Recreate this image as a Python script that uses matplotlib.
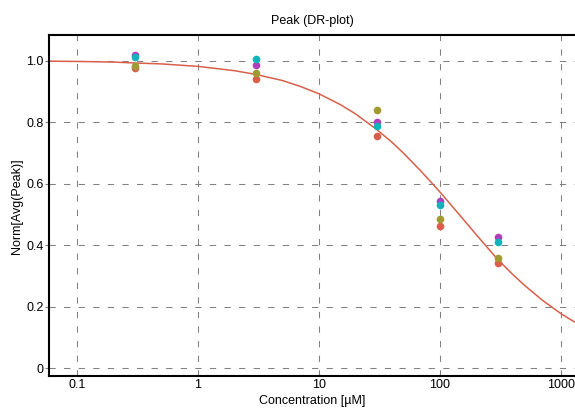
import numpy as np
import matplotlib
matplotlib.use('Agg')
import matplotlib.pyplot as plt
from matplotlib.ticker import FixedLocator, FixedFormatter, NullLocator

plt.rcParams['font.family'] = ['Liberation Sans', 'DejaVu Sans']

# measured points (concentration in uM, normalized peak)
conc = [0.3, 3, 30, 100, 300]
y_orange = [0.976, 0.941, 0.754, 0.464, 0.342]
y_olive = [0.981, 0.959, 0.838, 0.485, 0.359]
y_magenta = [1.018, 0.984, 0.800, 0.545, 0.426]
y_cyan = [1.011, 1.005, 0.787, 0.531, 0.410]

# fitted dose-response curve
fit_x = [0.0587, 0.1, 0.2, 0.3, 0.5, 1, 2, 3, 5, 7, 10, 15, 20, 30, 40,
         50, 70, 100, 150, 200, 300, 400, 500, 700, 1000, 1306]
fit_y = [0.998, 0.997, 0.995, 0.992, 0.989, 0.981, 0.967, 0.955, 0.935,
         0.916, 0.892, 0.857, 0.827, 0.776, 0.735, 0.699, 0.640, 0.573,
         0.492, 0.434, 0.354, 0.305, 0.270, 0.222, 0.178, 0.150]

xticks = [0.1, 1, 10, 100, 1000]
xtick_labels = ['0.1', '1', '10', '100', '1000']
yticks = [0, 0.2, 0.4, 0.6, 0.8, 1.0]
ytick_labels = ['0', '0.2', '0.4', '0.6', '0.8', '1.0']

fig = plt.figure(figsize=(5.75, 4.09), dpi=100)
ax = fig.add_axes([0.0852, 0.0795, 0.9148, 0.835])

ax.set_xscale('log')
ax.set_xlim(0.0587, 1306)
ax.set_ylim(-0.026, 1.083)

ax.plot(fit_x, fit_y, color='#d8604a', lw=1.1, zorder=2)

ms = 5.5
ax.plot(conc, y_orange, 'o', color='#d8604a', ms=ms, mec='none', zorder=3)
ax.plot(conc, y_olive, 'o', color='#a09a30', ms=ms, mec='none', zorder=4)
ax.plot(conc, y_magenta, 'o', color='#b040b8', ms=ms, mec='none', zorder=5)
ax.plot(conc, y_cyan, 'o', color='#10b4b8', ms=ms, mec='none', zorder=6)

ax.xaxis.set_major_locator(FixedLocator(xticks))
ax.xaxis.set_major_formatter(FixedFormatter(xtick_labels))
ax.xaxis.set_minor_locator(NullLocator())
ax.yaxis.set_major_locator(FixedLocator(yticks))
ax.yaxis.set_major_formatter(FixedFormatter(ytick_labels))

ax.grid(True, color='#808080', lw=0.75, linestyle=(0, (6, 8)))
ax.set_axisbelow(True)
ax.tick_params(axis='both', labelsize=9, length=3, width=0.8, color='#808080')
ax.tick_params(axis='x', direction='in', pad=2)
ax.tick_params(axis='y', direction='out', pad=1)

for side in ['left', 'top', 'bottom']:
    ax.spines[side].set_linewidth(1.5)
    ax.spines[side].set_color('black')
ax.spines['right'].set_visible(False)

ax.set_title('Peak (DR-plot)', fontsize=9, pad=8)
ax.set_xlabel('Concentration [\u00b5M]', fontsize=9, labelpad=3)
ax.set_ylabel('Norm[Avg(Peak)]', fontsize=9, labelpad=2)

fig.savefig('out.png', dpi=100, facecolor='white')
